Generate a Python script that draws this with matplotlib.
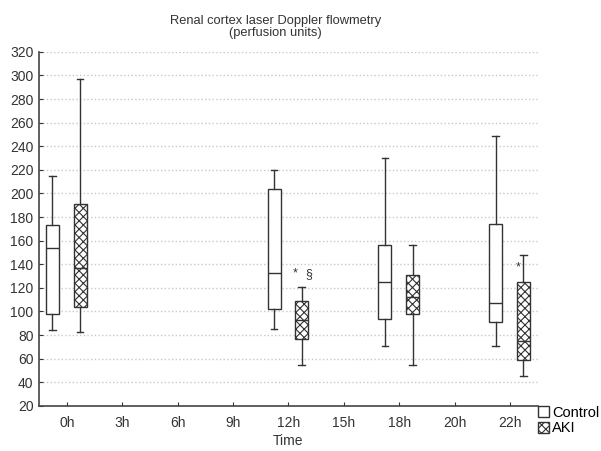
import matplotlib.pyplot as plt
from matplotlib.patches import Patch

plt.rcParams['font.family'] = ['Liberation Sans', 'DejaVu Sans']
plt.rcParams['hatch.linewidth'] = 0.8

# time points on the x axis
times = ['0h', '3h', '6h', '9h', '12h', '15h', '18h', '20h', '22h']

# box statistics per group: index of time point, whisker low, q1, median, q3, whisker high
control_idx = [0, 4, 6, 8]
control_low = [84, 85, 71, 71]
control_q1 = [98, 102, 94, 91]
control_med = [154, 133, 125, 107]
control_q3 = [173, 204, 156, 174]
control_high = [215, 220, 230, 249]

aki_idx = [0, 4, 6, 8]
aki_low = [83, 55, 55, 45]
aki_q1 = [104, 77, 98, 59]
aki_med = [137, 93, 112, 75]
aki_q3 = [191, 109, 131, 125]
aki_high = [297, 121, 156, 148]

# significance marks: (time index, y value, text)
marks_idx = [4, 4, 8]
marks_y = [132, 132, 137]
marks_txt = ['*', '§', '*']
marks_off = [0.12, 0.36, 0.14]


def make_stats(low, q1, med, q3, high):
    return [dict(whislo=a, q1=b, med=c, q3=d, whishi=e, fliers=[])
            for a, b, c, d, e in zip(low, q1, med, q3, high)]


fig = plt.figure(figsize=(6.01, 4.51), dpi=100)
ax = fig.add_axes([0.065, 0.1, 0.83, 0.785])

line = dict(color='#333333', linewidth=1.0)
ax.bxp(make_stats(control_low, control_q1, control_med, control_q3, control_high),
       positions=[i - 0.26 for i in control_idx], widths=0.235, capwidths=0.12,
       patch_artist=True, showfliers=False,
       boxprops=dict(facecolor='white', edgecolor='#333333', linewidth=1.0),
       medianprops=line, whiskerprops=line, capprops=line)
ax.bxp(make_stats(aki_low, aki_q1, aki_med, aki_q3, aki_high),
       positions=[i + 0.24 for i in aki_idx], widths=0.235, capwidths=0.12,
       patch_artist=True, showfliers=False,
       boxprops=dict(facecolor='white', edgecolor='#333333', linewidth=1.0, hatch='xxxx'),
       medianprops=line, whiskerprops=line, capprops=line)

for i, y, t, o in zip(marks_idx, marks_y, marks_txt, marks_off):
    ax.text(i + o, y, t, ha='center', va='center', fontsize=9, color='#333333')

ax.set_xlim(-0.5, 8.5)
ax.set_ylim(20, 320)
ax.set_xticks(range(len(times)))
ax.set_xticklabels(times)
ax.set_yticks(range(20, 321, 20))
ax.tick_params(direction='in', length=3, labelsize=10, colors='#333333', pad=4)
ax.tick_params(axis='x', pad=7)
ax.yaxis.grid(True, color='#c8c8c8', linestyle=':', linewidth=1.0)
ax.set_axisbelow(True)
for s in ['top', 'right']:
    ax.spines[s].set_visible(False)
for s in ['left', 'bottom']:
    ax.spines[s].set_color('#444444')
    ax.spines[s].set_linewidth(1.2)

fig.text(0.458, 0.967, 'Renal cortex laser Doppler flowmetry\n(perfusion units)',
         ha='center', va='top', fontsize=9.3, color='#333333', linespacing=1.05)
fig.text(0.48, 0.022, 'Time', ha='center', va='center', fontsize=10, color='#333333')

handles = [Patch(facecolor='white', edgecolor='#333333', label='Control'),
           Patch(facecolor='white', edgecolor='#333333', hatch='xxxx', label='AKI')]
fig.legend(handles=handles, loc='lower left', bbox_to_anchor=(0.896, 0.035),
           frameon=False, fontsize=10.5, handlelength=0.7, handleheight=0.8,
           handletextpad=0.25, labelspacing=0.1, borderpad=0, borderaxespad=0)

fig.savefig('out.png', dpi=100)
